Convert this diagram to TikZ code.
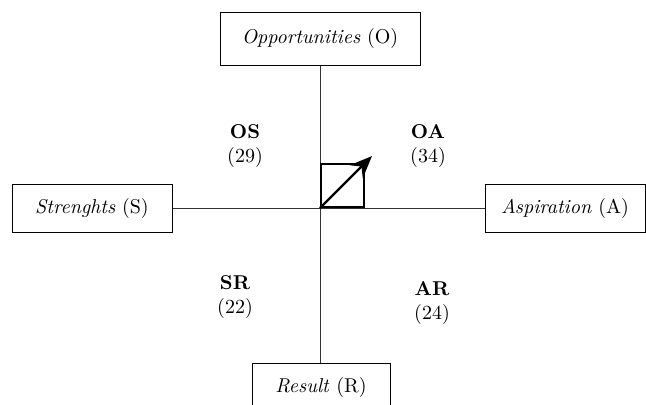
\documentclass[tikz,border=0pt]{standalone}
\usetikzlibrary{arrows.meta, positioning, calc}
\tikzset{
  factor/.style={draw, line width=0.5pt, inner sep=0pt, align=center},
  quad/.style={align=center, inner sep=1pt},
  axis/.style={line width=0.5pt, black!80}
}

\begin{document}
\begin{tikzpicture}[x=0.5pt, y=-0.5pt]
\useasboundingbox (0,0) rectangle (646,404);
\begin{scope}
\clip (0,0) rectangle (646,404);

% cajas
\node[factor, minimum width=100pt, minimum height=26.5pt] (opp) at (320,38.5) {\emph{Opportunities} (O)};
\node[factor, minimum width=80pt, minimum height=24pt] (str) at (92,208) {\emph{Strenghts} (S)};
\node[factor, minimum width=80pt, minimum height=24pt] (asp) at (565,208) {\emph{Aspiration} (A)};
\node[factor, minimum width=69pt, minimum height=24pt, anchor=north] (res) at (321,363) {\emph{Result} (R)};

% ejes
\draw[axis] (opp.south) -- (opp.south |- res.north);
\draw[axis] (str.east) -- (asp.west);

% cuadrado central
\coordinate (c) at (opp.south |- str.east);
\node[draw, line width=1pt, minimum size=21.5pt, inner sep=0pt, anchor=south west] (sq) at (c) {};
\coordinate (tip) at (372,156);
\draw[line width=1.2pt, -{Stealth[length=11pt, width=9pt]}] (sq.south west) -- (tip);

% cuadrantes
\node[quad] (os) at (245,146) {\textbf{OS}\\(29)};
\node[quad] (oa) at (428,146) {\textbf{OA}\\(34)};
\node[quad] (sr) at (235,297) {\textbf{SR}\\(22)};
\node[quad] (ar) at (432,303) {\textbf{AR}\\(24)};
\end{scope}
\end{tikzpicture}
\end{document}
